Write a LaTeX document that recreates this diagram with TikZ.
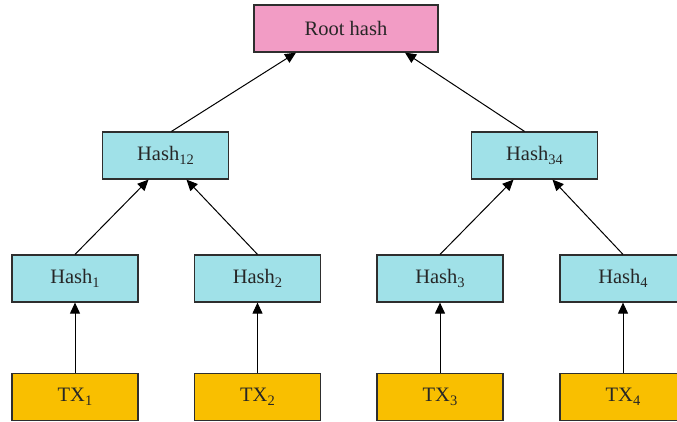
\documentclass[tikz,border=0pt]{standalone}
\usepackage{fontspec}
\setmainfont{Liberation Serif}
\usetikzlibrary{arrows.meta}
\definecolor{rootpink}{HTML}{F29CC5}
\definecolor{hashcyan}{HTML}{A0E1E8}
\definecolor{txgold}{HTML}{F9BF00}
\definecolor{edgegray}{HTML}{2E2E2E}
% subscript index set a little larger than \textsubscript
\newcommand{\idx}[1]{\raisebox{-4.5pt}{\fontsize{14.5}{15}\selectfont #1}}
\tikzset{
  box/.style={draw=edgegray, line width=1.2pt, minimum width=126pt, minimum height=47pt,
    inner sep=0pt, font=\fontsize{20.5}{24}\selectfont, text=black!85},
  rootbox/.style={box, fill=rootpink, minimum width=184pt},
  hashbox/.style={box, fill=hashcyan},
  txbox/.style={box, fill=txgold},
  link/.style={draw=black, line width=1pt, -{Triangle[length=11pt,width=10pt]}}
}
\begin{document}
\begin{tikzpicture}[x=1pt,y=-1pt]
\useasboundingbox (0,0) rectangle (677,421);
\clip (0,0) rectangle (677,421);
% root of the tree
\node[rootbox] (root) at (346,28.5) {Root hash};
% intermediate hashes
\node[hashbox] (h12) at (165.5,155.5) {Hash\idx{12}};
\node[hashbox] (h34) at (534.5,155.5) {Hash\idx{34}};
% leaf hashes
\node[hashbox] (h1) at (75,278.5) {Hash\idx{1}};
\node[hashbox] (h2) at (257.5,278.5) {Hash\idx{2}};
\node[hashbox] (h3) at (440,278.5) {Hash\idx{3}};
\node[hashbox] (h4) at (623,278.5) {Hash\idx{4}};
% transactions
\node[txbox] (t1) at (75,397) {TX\idx{1}};
\node[txbox] (t2) at (257.5,397) {TX\idx{2}};
\node[txbox] (t3) at (440,397) {TX\idx{3}};
\node[txbox] (t4) at (623,397) {TX\idx{4}};
% connectors
\draw[link] (t1) -- (h1);
\draw[link] (t2) -- (h2);
\draw[link] (t3) -- (h3);
\draw[link] (t4) -- (h4);
\draw[link] (h1.north) -- ([xshift=-17pt]h12.south);
\draw[link] (h2.north) -- ([xshift=21pt]h12.south);
\draw[link] (h3.north) -- ([xshift=-21pt]h34.south);
\draw[link] (h4.north) -- ([xshift=18pt]h34.south);
\draw[link] ([xshift=6pt]h12.north) -- ([xshift=-50pt]root.south);
\draw[link] ([xshift=-10pt]h34.north) -- ([xshift=59pt]root.south);
\end{tikzpicture}
\end{document}
